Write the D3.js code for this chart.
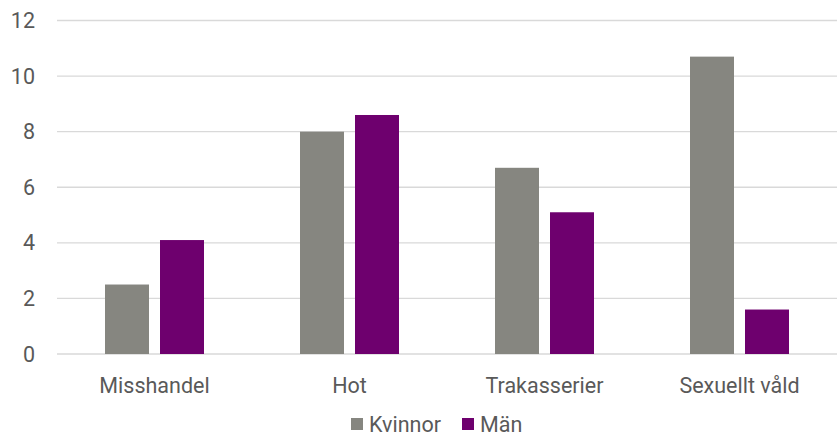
<!DOCTYPE html>
<html><head><meta charset="utf-8">
<script src="https://cdn.jsdelivr.net/npm/d3@7"></script>
<style>body{margin:0;background:#fff}svg{display:block;font-family:Roboto,sans-serif}</style>
</head><body><svg id="c" width="837" height="435"></svg>
<script>
const categories = ["Misshandel","Hot","Trakasserier","Sexuellt våld"];
const seriesNames = ["Kvinnor","Män"];
const kvinnor = [2.5, 8.0, 6.7, 10.7];
const man = [4.1, 8.6, 5.1, 1.6];
const yTicks = [0,2,4,6,8,10,12];
const colors = ["#868680","#6e006e"];

(function(){
const svg = d3.select("#c");
const mLeft = 57, mRight = 837, mTop = 20.5, mBottom = 354;
const x = d3.scaleBand().domain(categories).range([mLeft,mRight]);
const y = d3.scaleLinear().domain([0,12]).range([mBottom,mTop]);
const barW = 44, gap = 11;
const fs = 21.5, tc = "#595959";

svg.append("g").selectAll("line").data(yTicks).join("line")
  .attr("x1",mLeft).attr("x2",mRight)
  .attr("y1",d=>y(d)).attr("y2",d=>y(d))
  .attr("stroke","#d9d9d9").attr("stroke-width",1.3);

svg.append("g").selectAll("text").data(yTicks).join("text")
  .attr("x",35).attr("y",d=>y(d)).attr("dy","0.35em")
  .attr("text-anchor","end").attr("font-size",fs).attr("fill",tc)
  .text(d=>d);

const series = [kvinnor, man];
series.forEach((vals,si)=>{
  svg.append("g").selectAll("rect").data(categories).join("rect")
    .attr("x",(c)=>x(c)+x.bandwidth()/2 + (si===0 ? -gap/2-barW : gap/2))
    .attr("width",barW)
    .attr("y",(c,i)=>y(vals[i]))
    .attr("height",(c,i)=>y(0)-y(vals[i]))
    .attr("fill",colors[si]);
});

svg.append("g").selectAll("text").data(categories).join("text")
  .attr("x",c=>x(c)+x.bandwidth()/2).attr("y",392.5)
  .attr("text-anchor","middle").attr("font-size",fs).attr("fill",tc)
  .text(c=>c);

const leg = svg.append("g");
const legX = [351, 462];
seriesNames.forEach((n,i)=>{
  leg.append("rect").attr("x",legX[i]).attr("y",418).attr("width",12).attr("height",12).attr("fill",colors[i]);
  leg.append("text").attr("x",legX[i]+18).attr("y",431.5).attr("font-size",fs).attr("fill",tc).text(n);
});
})();
</script></body></html>
